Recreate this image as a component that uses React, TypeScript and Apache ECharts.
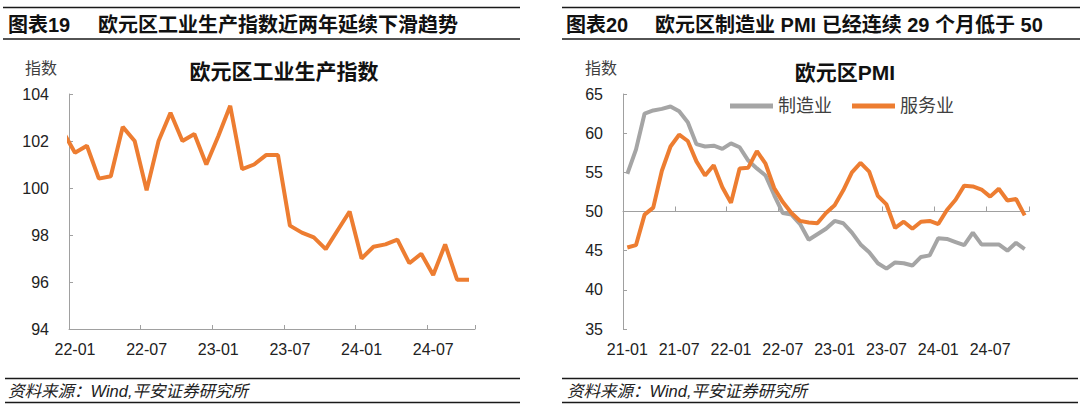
import React, { useEffect, useRef } from "react";
import * as echarts from "echarts";

// ---------- Data ----------
// Eurozone industrial production index (first category is only partially visible, clipped by the axis)
const ipMonths = [
  "21-12",
  "22-01", "22-02", "22-03", "22-04", "22-05", "22-06", "22-07", "22-08", "22-09", "22-10", "22-11", "22-12",
  "23-01", "23-02", "23-03", "23-04", "23-05", "23-06", "23-07", "23-08", "23-09", "23-10", "23-11", "23-12",
  "24-01", "24-02", "24-03", "24-04", "24-05", "24-06", "24-07", "24-08", "24-09", "24-10",
];
const ipValues = [
  102.4,
  101.5, 101.8, 100.4, 100.5, 102.6, 102.0, 99.9, 102.0, 103.2, 102.0, 102.3, 101.0,
  102.2, 103.5, 100.8, 101.0, 101.4, 101.4, 98.4, 98.1, 97.9, 97.4, 98.2, 99.0,
  97.0, 97.5, 97.6, 97.8, 96.8, 97.2, 96.3, 97.6, 96.1, 96.1,
];

// Eurozone PMI
const pmiMonths = [
  "21-01", "21-02", "21-03", "21-04", "21-05", "21-06", "21-07", "21-08", "21-09", "21-10", "21-11", "21-12",
  "22-01", "22-02", "22-03", "22-04", "22-05", "22-06", "22-07", "22-08", "22-09", "22-10", "22-11", "22-12",
  "23-01", "23-02", "23-03", "23-04", "23-05", "23-06", "23-07", "23-08", "23-09", "23-10", "23-11", "23-12",
  "24-01", "24-02", "24-03", "24-04", "24-05", "24-06", "24-07", "24-08", "24-09", "24-10", "24-11",
];
const mfgPmi = [
  54.8, 57.9, 62.5, 62.9, 63.1, 63.4, 62.8, 61.4, 58.6, 58.3, 58.4, 58.0,
  58.7, 58.2, 56.5, 55.5, 54.6, 52.1, 49.8, 49.6, 48.4, 46.4, 47.1, 47.8,
  48.8, 48.5, 47.3, 45.8, 44.8, 43.4, 42.7, 43.5, 43.4, 43.1, 44.2, 44.4,
  46.6, 46.5, 46.1, 45.7, 47.3, 45.8, 45.8, 45.8, 45.0, 46.0, 45.2,
];
const svcPmi = [
  45.4, 45.7, 49.6, 50.5, 55.2, 58.3, 59.8, 59.0, 56.4, 54.6, 55.9, 53.1,
  51.1, 55.5, 55.6, 57.7, 56.1, 53.0, 51.2, 49.8, 48.8, 48.6, 48.5, 49.8,
  50.8, 52.7, 55.0, 56.2, 55.1, 52.0, 50.9, 47.9, 48.7, 47.8, 48.7, 48.8,
  48.4, 50.2, 51.5, 53.3, 53.2, 52.8, 51.9, 52.9, 51.4, 51.6, 49.5,
];
const seriesNames = ["制造业", "服务业"];

// Axis ranges / tick labels
const ipAxis = { min: 94, max: 104, interval: 2 };
const pmiAxis = { min: 35, max: 65, interval: 5, cross: 50 };

// Texts
const leftHeadNo = "图表19";
const leftHead = "欧元区工业生产指数近两年延续下滑趋势";
const rightHeadNo = "图表20";
const rightHead = "欧元区制造业 PMI 已经连续 29 个月低于 50";
const leftTitle = "欧元区工业生产指数";
const rightTitle = "欧元区PMI";
const unitName = "指数";
const sourceText = "资料来源：Wind,平安证券研究所";

// ---------- Styles ----------
const ORANGE = "#ED7D31";
const GRAY = "#A5A5A5";
const AXIS = "#A0A0A0";
const LABEL = "#222222";
const FONT = "'Liberation Sans', Arial, 'Noto Sans CJK SC', sans-serif";

const isHalfYear = (_i: number, v: string) => v.endsWith("-01") || v.endsWith("-07");

export default function App() {
  const ref = useRef<HTMLDivElement>(null);

  useEffect(() => {
    if (!ref.current) return;
    const chart = echarts.init(ref.current, undefined, { renderer: "svg" });

    const gridH = 235;
    const crossOffset = -(gridH * (pmiAxis.cross - pmiAxis.min)) / (pmiAxis.max - pmiAxis.min);

    const axisLabel = { fontSize: 16, color: LABEL, fontFamily: FONT };
    const lineW = 1.5;

    const hLine = (x1: number, x2: number, y: number) => ({
      type: "line",
      shape: { x1, y1: y, x2, y2: y },
      style: { stroke: "#1a1a1a", lineWidth: lineW },
      silent: true,
    });
    const text = (
      x: number,
      y: number,
      t: string,
      opts: Record<string, any> = {}
    ) => ({
      type: "text",
      x,
      y,
      silent: true,
      style: {
        text: t,
        fontFamily: FONT,
        fontSize: 16,
        fill: "#111",
        align: "left",
        verticalAlign: "middle",
        ...opts,
      },
    });

    const option: any = {
      animation: false,
      backgroundColor: "#ffffff",
      grid: [
        { left: 69, top: 94, width: 406, height: gridH },
        { left: 623, top: 94, width: 406, height: gridH },
      ],
      legend: {
        data: seriesNames,
        left: 725,
        top: 92,
        icon: "rect",
        itemWidth: 43,
        itemHeight: 5,
        itemGap: 20,
        textStyle: { fontSize: 18, color: "#404040", fontFamily: FONT },
      },
      xAxis: [
        {
          gridIndex: 0,
          type: "category",
          position: "bottom",
          data: ipMonths,
          min: 1,
          boundaryGap: true,
          axisLine: { show: true, onZero: false, lineStyle: { color: AXIS, width: 1 } },
          axisTick: { show: true, inside: true, length: 4, interval: isHalfYear, lineStyle: { color: AXIS } },
          axisLabel: { ...axisLabel, interval: isHalfYear, margin: 12 },
          splitLine: { show: false },
        },
        {
          gridIndex: 1,
          type: "category",
          position: "bottom",
          data: pmiMonths,
          boundaryGap: true,
          axisLine: { show: false, onZero: false },
          axisTick: { show: false },
          axisLabel: { ...axisLabel, interval: 5, margin: 12 },
          splitLine: { show: false },
        },
        {
          gridIndex: 1,
          type: "category",
          position: "bottom",
          data: pmiMonths,
          boundaryGap: true,
          offset: crossOffset,
          axisLine: { show: true, onZero: false, lineStyle: { color: AXIS, width: 1 } },
          axisTick: { show: true, inside: true, length: 5, interval: 5, lineStyle: { color: AXIS } },
          axisLabel: { show: false },
          splitLine: { show: false },
        },
      ],
      yAxis: [
        {
          gridIndex: 0,
          type: "value",
          min: ipAxis.min,
          max: ipAxis.max,
          interval: ipAxis.interval,
          axisLine: { show: true, lineStyle: { color: AXIS, width: 1 } },
          axisTick: { show: true, inside: true, length: 4, lineStyle: { color: AXIS } },
          axisLabel: { ...axisLabel, margin: 20 },
          splitLine: { show: false },
        },
        {
          gridIndex: 1,
          type: "value",
          min: pmiAxis.min,
          max: pmiAxis.max,
          interval: pmiAxis.interval,
          axisLine: { show: true, lineStyle: { color: AXIS, width: 1 } },
          axisTick: { show: true, inside: true, length: 4, lineStyle: { color: AXIS } },
          axisLabel: { ...axisLabel, margin: 20 },
          splitLine: { show: false },
        },
      ],
      series: [
        {
          name: leftTitle,
          type: "line",
          xAxisIndex: 0,
          yAxisIndex: 0,
          data: ipValues,
          symbol: "none",
          clip: true,
          lineStyle: { color: ORANGE, width: 4 },
          itemStyle: { color: ORANGE },
        },
        {
          name: seriesNames[0],
          type: "line",
          xAxisIndex: 1,
          yAxisIndex: 1,
          data: mfgPmi,
          symbol: "none",
          lineStyle: { color: GRAY, width: 4 },
          itemStyle: { color: GRAY },
        },
        {
          name: seriesNames[1],
          type: "line",
          xAxisIndex: 1,
          yAxisIndex: 1,
          data: svcPmi,
          symbol: "none",
          lineStyle: { color: ORANGE, width: 4 },
          itemStyle: { color: ORANGE },
        },
      ],
      graphic: [
        // header rules
        hLine(3, 520, 7.5),
        hLine(3, 520, 39),
        hLine(562, 1080, 7.5),
        hLine(562, 1080, 39),
        // footer rules
        hLine(5, 520, 378.5),
        hLine(5, 520, 402.5),
        hLine(562, 1078, 378.5),
        hLine(562, 1078, 402.5),
        // headers
        text(8, 25, leftHeadNo, { fontSize: 20, fontWeight: "bold" }),
        text(98, 25, leftHead, { fontSize: 20, fontWeight: "bold" }),
        text(566, 25, rightHeadNo, { fontSize: 20, fontWeight: "bold" }),
        text(655, 25, rightHead, { fontSize: 20, fontWeight: "bold" }),
        // chart titles
        text(284, 71, leftTitle, { fontSize: 21, fontWeight: "bold", align: "center" }),
        text(845, 72, rightTitle, { fontSize: 21, fontWeight: "bold", align: "center" }),
        // unit names
        text(41, 68, unitName, { fontSize: 16, fill: "#404040", align: "center" }),
        text(601, 68, unitName, { fontSize: 16, fill: "#404040", align: "center" }),
        // sources
        text(8, 391, sourceText, { fontSize: 16.5, fontStyle: "italic", fill: "#222" }),
        text(567, 391, sourceText, { fontSize: 16.5, fontStyle: "italic", fill: "#222" }),
      ],
    };

    chart.setOption(option);
    return () => chart.dispose();
  }, []);

  return (
    <div
      ref={ref}
      style={{
        position: "fixed",
        left: 0,
        top: 0,
        width: 1080,
        height: 409,
        background: "#fff",
      }}
    />
  );
}
